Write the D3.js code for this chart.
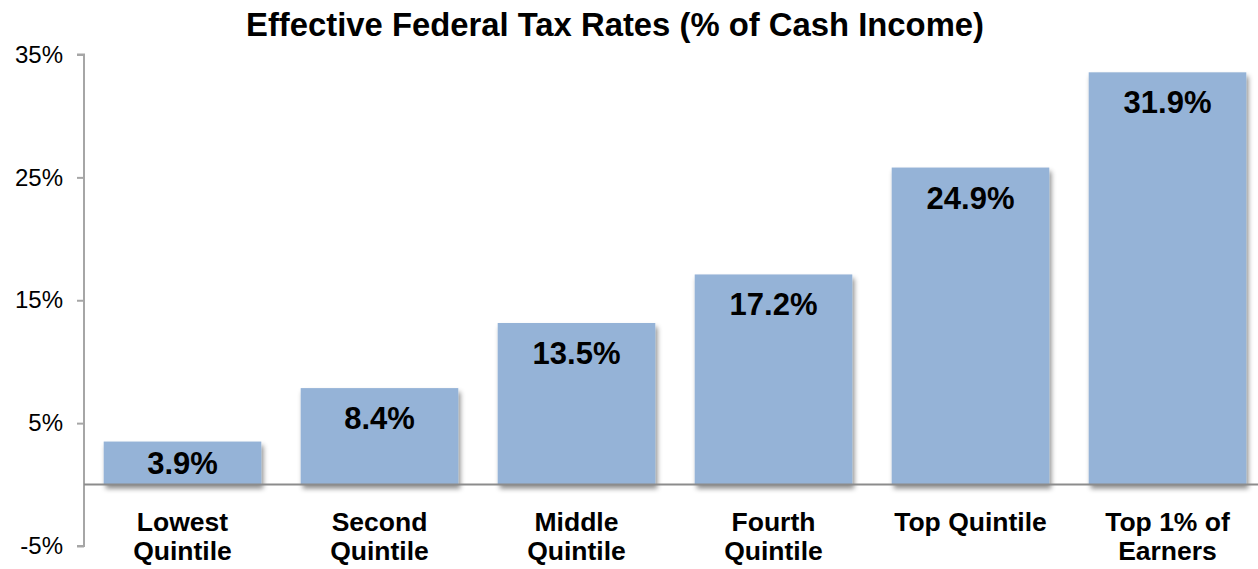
<!DOCTYPE html>
<html>
<head>
<meta charset="utf-8">
<script src="https://cdn.jsdelivr.net/npm/d3@7"></script>
<style>
  body { margin: 0; background: #fff; }
  text { font-family: "Century Gothic", "Liberation Sans", Arial, sans-serif; }
</style>
</head>
<body>
<script>
const width = 1258, height = 569;

// data
const categories = [["Lowest", "Quintile"], ["Second", "Quintile"], ["Middle", "Quintile"],
                    ["Fourth", "Quintile"], ["Top Quintile"], ["Top 1% of", "Earners"]];
const rateLabels = ["3.9%", "8.4%", "13.5%", "17.2%", "24.9%", "31.9%"];
// bar heights as drawn in the picture
const barValues = [3.5, 7.85, 13.15, 17.1, 25.8, 33.55];
const tickValues = [35, 25, 15, 5, -5];

const svg = d3.select("body").append("svg").attr("width", width).attr("height", height);

const defs = svg.append("defs");
const shadow = defs.append("filter").attr("id", "shadow")
    .attr("x", "-10%").attr("y", "-10%").attr("width", "130%").attr("height", "130%");
shadow.append("feDropShadow").attr("dx", 2).attr("dy", 4).attr("stdDeviation", 2.5)
    .attr("flood-color", "#000").attr("flood-opacity", 0.45);

const y = d3.scaleLinear().domain([-5, 35]).range([546, 54.5]);
const x = d3.scaleBand().domain(d3.range(categories.length))
    .range([84, 1266]).paddingInner(0.2).paddingOuter(0.1);

// y axis
const yAxis = svg.append("g").attr("transform", "translate(84,0)")
    .call(d3.axisLeft(y).tickValues(tickValues).tickSize(7).tickPadding(14).tickFormat(d => d + "%"));
yAxis.select(".domain").attr("stroke", "#a6a6a6").attr("stroke-width", 2)
    .attr("d", `M-7,${y(35)}H0V${y(-5)}H-7`);
yAxis.selectAll(".tick line").attr("stroke", "#a6a6a6").attr("stroke-width", 2);
yAxis.selectAll(".tick text").attr("fill", "#000").style("font-size", "24px")
    .style("font-family", "\"Century Gothic\", \"Liberation Sans\", Arial, sans-serif");

// bars
svg.append("g").selectAll("rect").data(barValues).enter().append("rect")
    .attr("x", (d, i) => x(i))
    .attr("width", x.bandwidth())
    .attr("y", d => y(d))
    .attr("height", d => y(0) - y(d))
    .attr("fill", "#95b3d7")
    .attr("filter", "url(#shadow)");

// zero line
svg.append("line")
    .attr("x1", 84).attr("x2", width)
    .attr("y1", y(0)).attr("y2", y(0))
    .attr("stroke", "#8c8c8c").attr("stroke-width", 2);

// value labels
svg.append("g").selectAll("text").data(barValues).enter().append("text")
    .attr("x", (d, i) => x(i) + x.bandwidth() / 2)
    .attr("y", d => {
        const top = y(d), h = y(0) - y(d);
        const c = h < 60 ? top + h / 2 : top + 30;
        return c + 11;
    })
    .attr("text-anchor", "middle")
    .style("font-size", "31px").style("font-weight", "bold")
    .text((d, i) => rateLabels[i]);

// category labels
const cat = svg.append("g").selectAll("text").data(categories).enter().append("text")
    .attr("x", (d, i) => x(i) + x.bandwidth() / 2)
    .attr("y", 531)
    .attr("text-anchor", "middle")
    .style("font-size", "26.5px").style("font-weight", "bold");
cat.selectAll("tspan").data(d => d).enter().append("tspan")
    .attr("x", function () { return this.parentNode.getAttribute("x"); })
    .attr("dy", (d, i) => i === 0 ? 0 : 29)
    .text(d => d);

// title
svg.append("text")
    .attr("x", 615).attr("y", 36)
    .attr("text-anchor", "middle")
    .attr("textLength", 738).attr("lengthAdjust", "spacingAndGlyphs")
    .style("font-size", "33px").style("font-weight", "bold")
    .text("Effective Federal Tax Rates (% of Cash Income)");
</script>
</body>
</html>
